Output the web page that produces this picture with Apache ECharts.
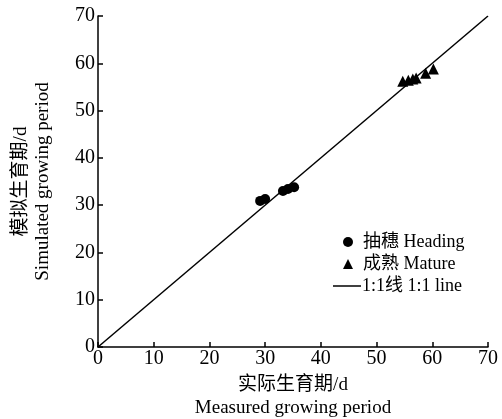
<!DOCTYPE html>
<html>
<head>
<meta charset="utf-8">
<script src="https://cdn.jsdelivr.net/npm/echarts@6/dist/echarts.min.js"></script>
<style>html,body{margin:0;padding:0;background:#fff;}#c{width:502px;height:419px;}</style>
</head>
<body>
<div id="c"></div>
<script>
var headingMeasured = [29.1, 30.0, 33.2, 34.1, 35.2];
var headingSimulated = [30.9, 31.3, 33.0, 33.4, 33.8];
var matureMeasured = [54.7, 55.7, 56.5, 57.1, 58.8, 60.2];
var matureSimulated = [56.2, 56.4, 56.7, 56.9, 57.9, 58.8];
var lineMeasured = [0, 70];
var lineSimulated = [0, 70];
var axisMin = 0, axisMax = 70, axisStep = 10;
var xName = '实际生育期/d\nMeasured growing period';
var yName = '模拟生育期/d\nSimulated growing period';
var nameHeading = '抽穗 Heading', nameMature = '成熟 Mature', nameLine = '1:1线 1:1 line';

function pairs(a, b) { return a.map(function (v, i) { return [v, b[i]]; }); }

var font = '"Liberation Serif", "Noto Sans CJK SC", serif';
var chart = echarts.init(document.getElementById('c'));
var axisCommon = {
  type: 'value', min: axisMin, max: axisMax, interval: axisStep,
  nameLocation: 'middle',
  nameTextStyle: { fontFamily: font, fontSize: 19, color: '#000', lineHeight: 23 },
  axisLine: { show: true, lineStyle: { color: '#000', width: 1.5 } },
  axisTick: { show: true, inside: true, length: 5, lineStyle: { color: '#000', width: 1.5 } },
  splitLine: { show: false },
  axisLabel: { fontFamily: font, fontSize: 20, color: '#000' }
};
chart.setOption({
  animation: false,
  backgroundColor: '#fff',
  grid: { left: 98, right: 14, top: 16, bottom: 72, containLabel: false, outerBoundsMode: 'none' },
  xAxis: Object.assign({}, axisCommon, { name: xName, nameGap: 26,
    axisLabel: Object.assign({}, axisCommon.axisLabel, { margin: 2 }) }),
  yAxis: Object.assign({}, axisCommon, { name: yName, nameGap: 44, nameRotate: 90,
    nameTextStyle: Object.assign({}, axisCommon.nameTextStyle, { lineHeight: 22 }),
    axisLabel: Object.assign({}, axisCommon.axisLabel, { margin: 3 }) }),
  legend: [
    { orient: 'vertical', left: 338, top: 228, itemWidth: 10, itemHeight: 10, itemGap: 4,
      data: [{ name: nameHeading, icon: 'circle' }, { name: nameMature, icon: 'triangle' }],
      textStyle: { fontFamily: font, fontSize: 18, color: '#000', padding: [0, 0, 0, 5] } },
    { orient: 'vertical', left: 328, top: 272, itemWidth: 28, itemHeight: 1.5,
      data: [{ name: nameLine, icon: 'rect' }],
      textStyle: { fontFamily: font, fontSize: 18, color: '#000', padding: [0, 0, 0, -4] } }
  ],
  series: [
    { name: nameLine, type: 'line', data: pairs(lineMeasured, lineSimulated), symbol: 'none',
      lineStyle: { color: '#000', width: 1.5 }, itemStyle: { color: '#000' }, z: 1 },
    { name: nameHeading, type: 'scatter', symbol: 'circle', symbolSize: 10,
      data: pairs(headingMeasured, headingSimulated), itemStyle: { color: '#000', opacity: 1 }, z: 3 },
    { name: nameMature, type: 'scatter', symbol: 'triangle', symbolSize: 11,
      data: pairs(matureMeasured, matureSimulated), itemStyle: { color: '#000', opacity: 1 }, z: 3 }
  ]
});
</script>
</body>
</html>
